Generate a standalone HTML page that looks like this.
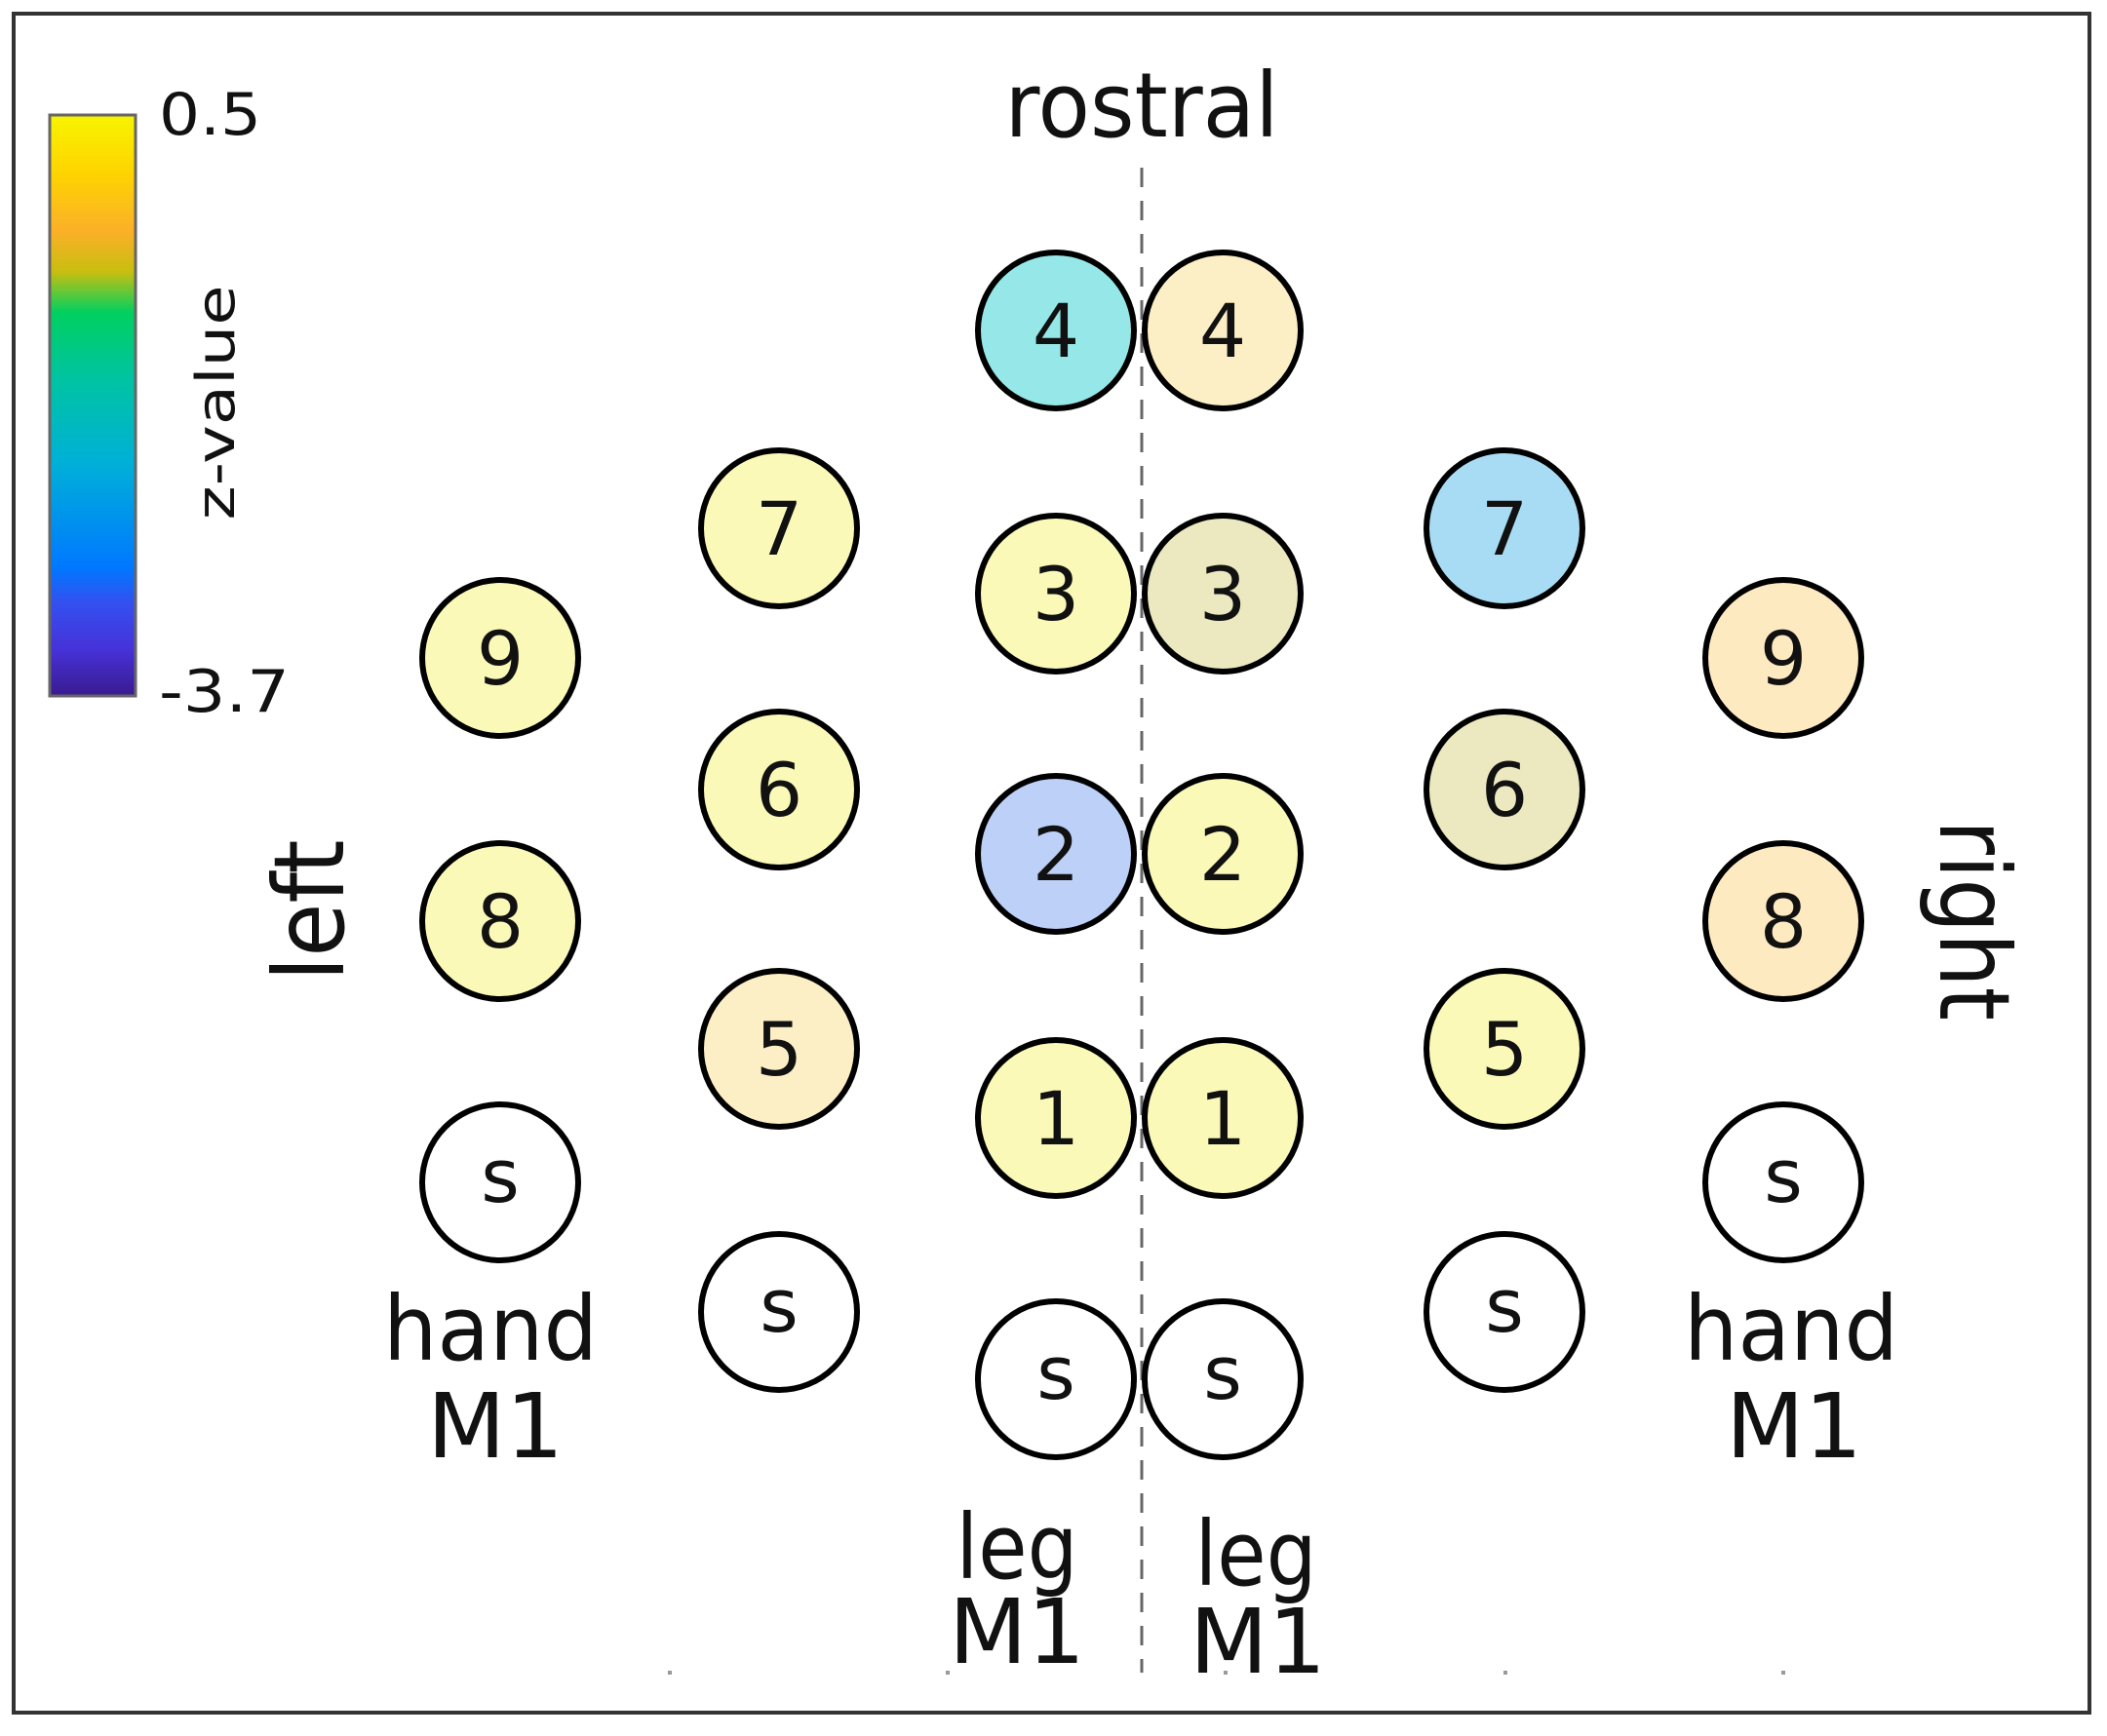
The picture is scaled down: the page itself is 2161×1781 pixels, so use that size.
<!DOCTYPE html>
<html><head><meta charset="utf-8"><style>
html,body{margin:0;padding:0;background:#fff;}
svg{display:block;}
text{font-family:"DejaVu Sans","Liberation Sans",sans-serif;fill:#111;}
</style></head><body>
<svg width="2161" height="1781" viewBox="0 0 2161 1781" xmlns="http://www.w3.org/2000/svg">
<defs>
<linearGradient id="cb" x1="0" y1="0" x2="0" y2="1">
<stop offset="0" stop-color="#f8f400"/>
<stop offset="0.1" stop-color="#fed400"/>
<stop offset="0.2" stop-color="#fbb028"/>
<stop offset="0.27" stop-color="#c8be10"/>
<stop offset="0.34" stop-color="#00d060"/>
<stop offset="0.45" stop-color="#00c4a0"/>
<stop offset="0.6" stop-color="#00b0d8"/>
<stop offset="0.78" stop-color="#0078ff"/>
<stop offset="0.84" stop-color="#3450f0"/>
<stop offset="0.92" stop-color="#4632d8"/>
<stop offset="1" stop-color="#3a1a90"/>
</linearGradient>
</defs>
<rect x="14" y="14" width="2129" height="1743" fill="#fff" stroke="#333" stroke-width="4"/>
<rect x="51" y="118" width="88" height="596" fill="url(#cb)" stroke="#666" stroke-width="3"/>
<text x="163" y="138" font-size="60" textLength="105" lengthAdjust="spacingAndGlyphs">0.5</text>
<text x="163" y="730" font-size="60" textLength="134" lengthAdjust="spacingAndGlyphs">-3.7</text>
<text transform="translate(240,413) rotate(-90)" text-anchor="middle" font-size="54" textLength="241" lengthAdjust="spacingAndGlyphs">z-value</text>
<text x="1171" y="140" text-anchor="middle" font-size="92" textLength="281" lengthAdjust="spacingAndGlyphs">rostral</text>
<line x1="1171" y1="172" x2="1171" y2="1716" stroke="#666" stroke-width="3" stroke-dasharray="20,14"/>
<text transform="translate(352,934) rotate(-90)" text-anchor="middle" font-size="100" textLength="145" lengthAdjust="spacingAndGlyphs">left</text>
<text transform="translate(1990,944) rotate(90)" text-anchor="middle" font-size="100" textLength="206" lengthAdjust="spacingAndGlyphs">right</text>
<g stroke="#000" stroke-width="6">
<circle cx="1083" cy="339" r="80" fill="#96e8e8"/>
<circle cx="1254" cy="339" r="80" fill="#fdefc5"/>
<circle cx="1083" cy="609" r="80" fill="#fbf9b8"/>
<circle cx="1254" cy="609" r="80" fill="#ece9c0"/>
<circle cx="1083" cy="876" r="80" fill="#bcd0f8"/>
<circle cx="1254" cy="876" r="80" fill="#fbf9b8"/>
<circle cx="1083" cy="1147" r="80" fill="#fbf9b8"/>
<circle cx="1254" cy="1147" r="80" fill="#fbf9b8"/>
<circle cx="1083" cy="1415" r="80" fill="#fff"/>
<circle cx="1254" cy="1415" r="80" fill="#fff"/>
<circle cx="799" cy="542" r="80" fill="#fbf9b8"/>
<circle cx="799" cy="810" r="80" fill="#fbf9b8"/>
<circle cx="799" cy="1076" r="80" fill="#fdefc5"/>
<circle cx="799" cy="1346" r="80" fill="#fff"/>
<circle cx="1543" cy="542" r="80" fill="#a8dcf4"/>
<circle cx="1543" cy="810" r="80" fill="#ece9c0"/>
<circle cx="1543" cy="1076" r="80" fill="#fbf9b8"/>
<circle cx="1543" cy="1346" r="80" fill="#fff"/>
<circle cx="513" cy="675" r="80" fill="#fbf9b8"/>
<circle cx="513" cy="945" r="80" fill="#fbf9b8"/>
<circle cx="513" cy="1213" r="80" fill="#fff"/>
<circle cx="1829" cy="675" r="80" fill="#fdeac0"/>
<circle cx="1829" cy="945" r="80" fill="#fdeac0"/>
<circle cx="1829" cy="1213" r="80" fill="#fff"/>
</g>
<g font-size="76" text-anchor="middle">
<text x="1083" y="366">4</text><text x="1254" y="366">4</text>
<text x="1083" y="636">3</text><text x="1254" y="636">3</text>
<text x="1083" y="903">2</text><text x="1254" y="903">2</text>
<text x="1083" y="1174">1</text><text x="1254" y="1174">1</text>
<text x="1083" y="1435">s</text><text x="1254" y="1435">s</text>
<text x="799" y="569">7</text><text x="799" y="837">6</text><text x="799" y="1103">5</text><text x="799" y="1366">s</text>
<text x="1543" y="569">7</text><text x="1543" y="837">6</text><text x="1543" y="1103">5</text><text x="1543" y="1366">s</text>
<text x="513" y="702">9</text><text x="513" y="972">8</text><text x="513" y="1233">s</text>
<text x="1829" y="702">9</text><text x="1829" y="972">8</text><text x="1829" y="1233">s</text>
</g>
<g font-size="92" text-anchor="middle">
<text x="503" y="1395" textLength="220" lengthAdjust="spacingAndGlyphs">hand</text>
<text x="508" y="1495" textLength="140" lengthAdjust="spacingAndGlyphs">M1</text>
<text x="1837" y="1395" textLength="220" lengthAdjust="spacingAndGlyphs">hand</text>
<text x="1840" y="1495" textLength="140" lengthAdjust="spacingAndGlyphs">M1</text>
<text x="1043" y="1619" textLength="125" lengthAdjust="spacingAndGlyphs">leg</text>
<text x="1043" y="1706" textLength="140" lengthAdjust="spacingAndGlyphs">M1</text>
<text x="1288" y="1626" textLength="125" lengthAdjust="spacingAndGlyphs">leg</text>
<text x="1290" y="1716" textLength="140" lengthAdjust="spacingAndGlyphs">M1</text>
</g>
<g fill="#999">
<rect x="685" y="1714" width="4" height="4"/><rect x="970" y="1714" width="4" height="4"/>
<rect x="1255" y="1714" width="4" height="4"/><rect x="1542" y="1714" width="4" height="4"/>
<rect x="1827" y="1714" width="4" height="4"/>
</g>
</svg>
</body></html>
